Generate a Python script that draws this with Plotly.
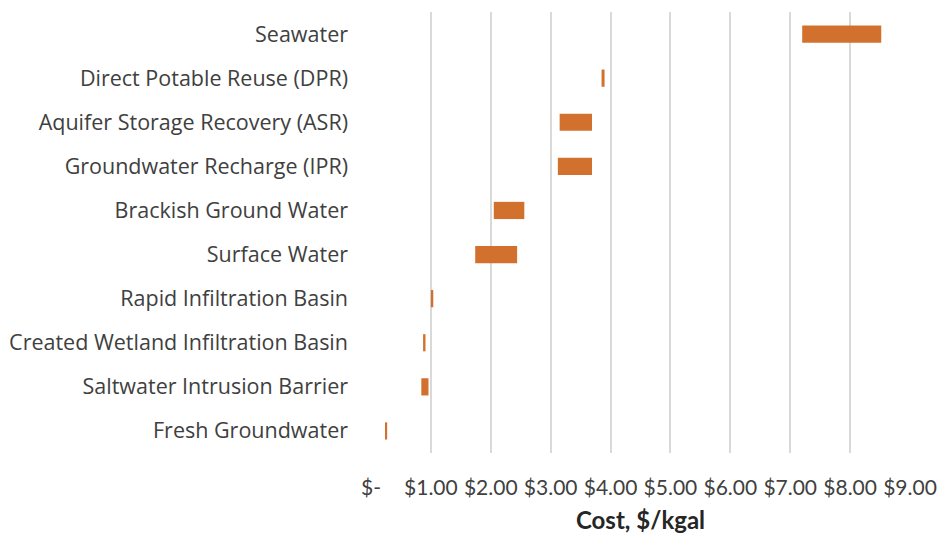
import plotly.graph_objects as go

categories = ["Seawater", "Direct Potable Reuse (DPR)", "Aquifer Storage Recovery (ASR)",
              "Groundwater Recharge (IPR)", "Brackish Ground Water", "Surface Water",
              "Rapid Infiltration Basin", "Created Wetland Infiltration Basin",
              "Saltwater Intrusion Barrier", "Fresh Groundwater"]
low_cost = [7.20, 3.85, 3.15, 3.12, 2.05, 1.74, 1.00, 0.87, 0.84, 0.24]
high_cost = [8.52, 3.90, 3.69, 3.69, 2.56, 2.44, 1.04, 0.91, 0.96, 0.27]
tick_vals = [0, 1, 2, 3, 4, 5, 6, 7, 8, 9]
tick_text = ["$-", "$1.00", "$2.00", "$3.00", "$4.00", "$5.00", "$6.00", "$7.00", "$8.00", "$9.00"]

text_color = "#404040"

fig = go.Figure(go.Bar(
    y=categories,
    x=[h - l for h, l in zip(high_cost, low_cost)],
    base=low_cost,
    orientation="h",
    width=0.39,
    marker=dict(color="#D2712E", line=dict(width=0)),
    showlegend=False,
))

fig.update_layout(
    width=939, height=536,
    margin=dict(l=371, r=29, t=12, b=83),
    paper_bgcolor="white", plot_bgcolor="white",
    font=dict(family="'Open Sans', sans-serif", size=21.5, color=text_color),
    xaxis=dict(
        range=[0, 9], tickvals=tick_vals, ticktext=tick_text,
        showgrid=True, gridcolor="#d9d9d9", gridwidth=1.5,
        zeroline=False, showline=False, ticks="",
        automargin=False,
        ticklabelstandoff=20,
        tickfont=dict(family="Lato, sans-serif", size=21, color=text_color),
        title=dict(text="<b>Cost, $/kgal</b>", font=dict(family="Lato, sans-serif", size=24, color="#262626"), standoff=14),
    ),
    yaxis=dict(
        categoryorder="array", categoryarray=categories, autorange="reversed",
        showgrid=False, zeroline=False, showline=False, ticks="",
        automargin=False,
        ticklabelstandoff=22,
        tickfont=dict(family="'Open Sans', sans-serif", size=21.5, color=text_color),
    ),
)

fig.write_html("out.html")
